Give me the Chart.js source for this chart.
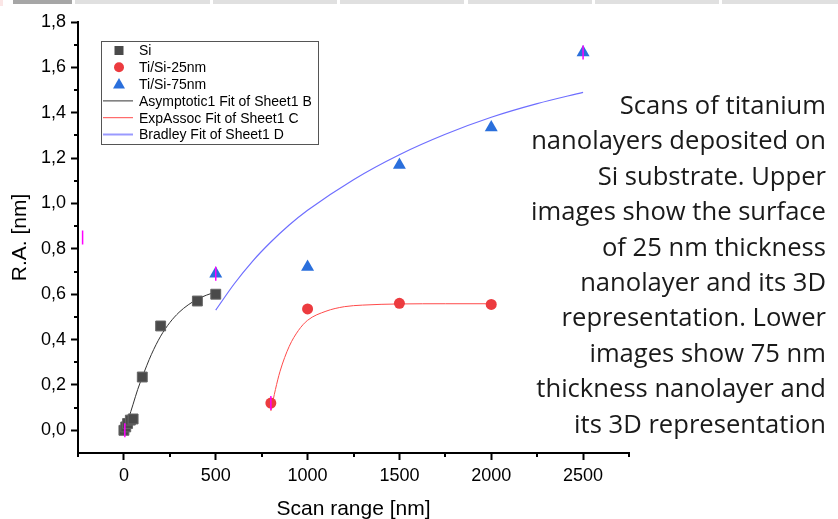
<!DOCTYPE html>
<html>
<head>
<meta charset="utf-8">
<script src="https://cdn.jsdelivr.net/npm/chart.js@4.4.1/dist/chart.umd.min.js"></script>
<style>
  html, body { margin: 0; padding: 0; background: #fff; }
  #wrap { position: relative; width: 838px; height: 519px; overflow: hidden; }
  #chart { position: absolute; left: 0; top: 0; }
  .tab { position: absolute; top: 0; height: 4px; background: #e0e0e0; }
  .note {
    position: absolute; right: 12px; top: 87px; width: 360px;
    text-align: right; font-family: "Open Sans", sans-serif; font-size: 25.6px;
    line-height: 35.4px; color: #1a1a1a;
  }
</style>
</head>
<body>
<div id="wrap">
  <canvas id="chart" width="838" height="519"></canvas>
  <div class="tab" style="left:0;width:3px;height:6px;background:#fbe6e6"></div>
  <div class="tab" style="left:13px;width:59px;background:#a6a6a6"></div>
  <div class="tab" style="left:75px;width:135px"></div>
  <div class="tab" style="left:213px;width:124px"></div>
  <div class="tab" style="left:340px;width:124px"></div>
  <div class="tab" style="left:468px;width:124px"></div>
  <div class="tab" style="left:595px;width:124px"></div>
  <div class="tab" style="left:722px;width:116px"></div>
  <div class="note">Scans of titanium<br>nanolayers deposited on<br>Si substrate. Upper<br>images show the surface<br>of 25 nm thickness<br>nanolayer and its 3D<br>representation. Lower<br>images show 75 nm<br>thickness nanolayer and<br>its 3D representation</div>
</div>
<script>
// measured points
const siX = [0, 10, 20, 35, 50, 100, 200, 400, 500];
const siY = [0.0, 0.015, 0.03, 0.045, 0.05, 0.235, 0.46, 0.57, 0.60];

const ti25X = [800, 1000, 1500, 2000];
const ti25Y = [0.12, 0.535, 0.56, 0.555];

const ti75X = [500, 1000, 1500, 2000, 2500];
const ti75Y = [0.69, 0.72, 1.17, 1.335, 1.665];

// fitted curves, sampled
const asymX = [0, 25, 50, 75, 100, 150, 200, 250, 300, 350, 400, 450, 500];
const asymY = [-0.02, 0.05, 0.115, 0.18, 0.235, 0.335, 0.415, 0.475, 0.52, 0.553, 0.578, 0.596, 0.61];

const expX = [800, 825, 850, 900, 950, 1000, 1100, 1200, 1300, 1500, 1750, 2000];
const expY = [0.085, 0.18, 0.26, 0.37, 0.44, 0.485, 0.525, 0.545, 0.552, 0.557, 0.558, 0.558];

const bradX = [500, 600, 700, 800, 900, 1000, 1250, 1500, 1750, 2000, 2250, 2500];
const bradY = [0.53, 0.645, 0.745, 0.83, 0.905, 0.97, 1.105, 1.215, 1.305, 1.38, 1.44, 1.49];

// error bar marks
const errX = [-225, 5, 500, 800, 2500];
const errY = [0.85, 0.0, 0.69, 0.12, 1.665];

// axes
const xTicks = [0, 500, 1000, 1500, 2000, 2500];
const yTicks = [0, 0.2, 0.4, 0.6, 0.8, 1.0, 1.2, 1.4, 1.6, 1.8];

const pts = (xs, ys) => xs.map((x, i) => ({ x: x, y: ys[i] }));

const SQ = '#4a4a4a', RED = '#ec3b3f', BLUE = '#2a6fdc';
const FIT_K = '#333333', FIT_R = '#ff4a4a', FIT_B = '#6e6eff';
const AXIS_FONT = 'Liberation Sans, Arial, sans-serif';

// minor ticks halfway between major ones
const minorTicks = {
    id: 'minorTicks',
    afterDraw(chart) {
        const ctx = chart.ctx;
        const { left, bottom } = chart.chartArea;
        ctx.save();
        ctx.strokeStyle = '#000';
        ctx.lineWidth = 2;
        const xs = chart.scales.x;
        for (let v = xs.min; v <= xs.max + 1e-6; v += 500) {
            const px = Math.round(xs.getPixelForValue(v));
            ctx.beginPath(); ctx.moveTo(px, bottom); ctx.lineTo(px, bottom + 4); ctx.stroke();
        }
        const ys = chart.scales.y;
        for (let v = ys.min + 0.2; v < ys.max; v += 0.2) {
            const py = Math.round(ys.getPixelForValue(v));
            ctx.beginPath(); ctx.moveTo(left, py); ctx.lineTo(left - 4, py); ctx.stroke();
        }
        ctx.restore();
    }
};

// framed legend inside the plot
const boxLegend = {
    id: 'boxLegend',
    afterDraw(chart) {
        const ctx = chart.ctx;
        const { left, top } = chart.chartArea;
        const bx = left + 23, by = top + 19, bw = 217, bh = 103;
        ctx.save();
        ctx.fillStyle = '#fff';
        ctx.fillRect(bx, by, bw, bh);
        ctx.strokeStyle = '#555';
        ctx.lineWidth = 1;
        ctx.strokeRect(bx + 0.5, by + 0.5, bw, bh);

        const items = [
            { label: 'Si', kind: 'rect', color: SQ },
            { label: 'Ti/Si-25nm', kind: 'circle', color: RED },
            { label: 'Ti/Si-75nm', kind: 'triangle', color: BLUE },
            { label: 'Asymptotic1 Fit of Sheet1 B', kind: 'line', color: FIT_K, w: 1 },
            { label: 'ExpAssoc Fit of Sheet1 C', kind: 'line', color: FIT_R, w: 1 },
            { label: 'Bradley Fit of Sheet1 D', kind: 'line', color: '#9a9aff', w: 2 }
        ];
        ctx.font = '14px ' + AXIS_FONT;
        ctx.textBaseline = 'middle';
        items.forEach((it, i) => {
            const cy = by + 9.5 + i * 16.8;
            const cx = bx + 18;
            ctx.fillStyle = it.color;
            ctx.strokeStyle = it.color;
            if (it.kind === 'rect') {
                ctx.fillRect(cx - 4.5, cy - 4.5, 9, 9);
            } else if (it.kind === 'circle') {
                ctx.beginPath(); ctx.arc(cx, cy, 5, 0, Math.PI * 2); ctx.fill();
            } else if (it.kind === 'triangle') {
                ctx.beginPath();
                ctx.moveTo(cx, cy - 6); ctx.lineTo(cx + 6, cy + 4.5); ctx.lineTo(cx - 6, cy + 4.5);
                ctx.closePath(); ctx.fill();
            } else {
                ctx.lineWidth = it.w;
                ctx.beginPath(); ctx.moveTo(bx + 2, cy); ctx.lineTo(bx + 32, cy); ctx.stroke();
            }
            ctx.fillStyle = '#000';
            ctx.fillText(it.label, bx + 38, cy + 1);
        });
        ctx.restore();
    }
};

new Chart(document.getElementById('chart'), {
    type: 'scatter',
    data: {
        datasets: [
            { label: 'err', data: pts(errX, errY), pointStyle: 'line', rotation: 90, pointRadius: 7,
              borderColor: '#ff00ff', backgroundColor: '#ff00ff', borderWidth: 1.5, order: 0 },
            { label: 'Si', data: pts(siX, siY), pointStyle: 'rect', pointRadius: 7,
              backgroundColor: SQ, borderColor: '#666', borderWidth: 1, order: 1 },
            { label: 'Ti/Si-25nm', data: pts(ti25X, ti25Y), pointStyle: 'circle', pointRadius: 5.5,
              backgroundColor: RED, borderColor: RED, borderWidth: 0, order: 1 },
            { label: 'Ti/Si-75nm', data: pts(ti75X, ti75Y), pointStyle: 'triangle', pointRadius: 7.5,
              backgroundColor: BLUE, borderColor: BLUE, borderWidth: 0, order: 1 },
            { label: 'Asymptotic1 Fit of Sheet1 B', type: 'line', data: pts(asymX, asymY), showLine: true,
              borderColor: FIT_K, borderWidth: 1, pointRadius: 0, cubicInterpolationMode: 'monotone', order: 2 },
            { label: 'ExpAssoc Fit of Sheet1 C', type: 'line', data: pts(expX, expY), showLine: true,
              borderColor: FIT_R, borderWidth: 1, pointRadius: 0, cubicInterpolationMode: 'monotone', order: 2 },
            { label: 'Bradley Fit of Sheet1 D', type: 'line', data: pts(bradX, bradY), showLine: true,
              borderColor: FIT_B, borderWidth: 1.2, pointRadius: 0, cubicInterpolationMode: 'monotone', order: 2 }
        ]
    },
    options: {
        responsive: false,
        animation: false,
        layout: { padding: { left: 0, top: 22, right: 209, bottom: 0 } },
        plugins: { legend: { display: false }, tooltip: { enabled: false } },
        scales: {
            x: {
                type: 'linear', min: -250, max: 2750,
                afterBuildTicks: s => { s.ticks = xTicks.map(v => ({ value: v })); },
                afterFit: s => { s.height = 66; },
                ticks: { callback: v => String(v), color: '#000', padding: 5,
                         font: { family: AXIS_FONT, size: 18 }, maxRotation: 0 },
                border: { display: true, color: '#000', width: 2 },
                grid: { drawOnChartArea: false, drawTicks: true, tickLength: 7, tickWidth: 2, tickColor: '#000' },
                title: { display: true, text: 'Scan range [nm]', color: '#000',
                         font: { family: AXIS_FONT, size: 21 }, padding: { top: 0, bottom: -3 } }
            },
            y: {
                type: 'linear', min: -0.1, max: 1.8,
                afterBuildTicks: s => { s.ticks = yTicks.map(v => ({ value: v })); },
                afterFit: s => { s.width = 78; },
                ticks: { callback: v => v.toFixed(1).replace('.', ','), color: '#000', padding: 5,
                         font: { family: AXIS_FONT, size: 18 } },
                border: { display: true, color: '#000', width: 2 },
                grid: { drawOnChartArea: false, drawTicks: true, tickLength: 7, tickWidth: 2, tickColor: '#000' },
                title: { display: true, text: 'R.A. [nm]', color: '#000',
                         font: { family: AXIS_FONT, size: 21 }, padding: { top: 8, bottom: 0 } }
            }
        }
    },
    plugins: [minorTicks, boxLegend]
});
</script>
</body>
</html>
